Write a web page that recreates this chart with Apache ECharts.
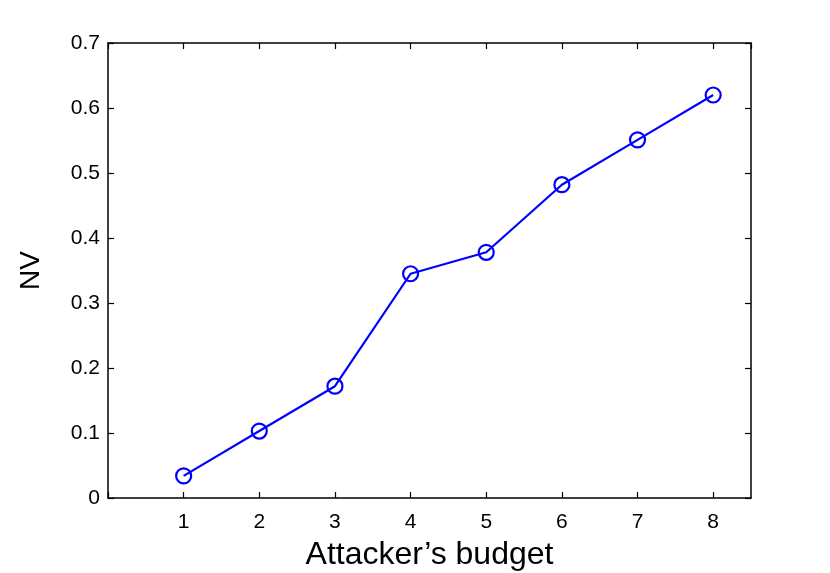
<!DOCTYPE html>
<html>
<head>
<meta charset="utf-8">
<script src="https://cdn.jsdelivr.net/npm/echarts@6/dist/echarts.min.js"></script>
<style>
  html, body { margin: 0; padding: 0; background: #fff; }
  #chart { width: 830px; height: 573px; }
</style>
</head>
<body>
<div id="chart"></div>
<script>
// budget levels on the x axis
const budgets = [1, 2, 3, 4, 5, 6, 7, 8];
// NV value per budget
const nvValues = [0.034, 0.103, 0.172, 0.345, 0.378, 0.482, 0.551, 0.620];

const font = 'Liberation Sans, Arial, Helvetica, sans-serif';
const axisLine = { show: true, onZero: false, lineStyle: { color: '#000', width: 1.5 } };
const tick = { show: true, inside: true, length: 6, lineStyle: { color: '#000', width: 1.2 } };

const option = {
  animation: false,
  backgroundColor: '#fff',
  grid: { left: 108, top: 43, width: 643, height: 455, containLabel: false, outerBoundsMode: 'none' },
  xAxis: [{
    type: 'value',
    min: 0,
    max: 8.5,
    interval: 1,
    name: 'Attacker\u2019s budget',
    nameLocation: 'middle',
    nameGap: 41,
    nameTextStyle: { fontFamily: font, fontSize: 32, color: '#000' },
    axisLine: axisLine,
    axisTick: tick,
    splitLine: { show: false },
    axisLabel: {
      fontFamily: font, fontSize: 21, color: '#000', margin: 14,
      showMaxLabel: false,
      formatter: v => (v >= 1 && v <= 8 && v % 1 === 0 ? String(v) : '')
    }
  }, {
    type: 'value',
    position: 'top',
    min: 0,
    max: 8.5,
    interval: 1,
    axisLine: axisLine,
    axisTick: tick,
    axisLabel: { show: false },
    splitLine: { show: false }
  }],
  yAxis: [{
    type: 'value',
    min: 0,
    max: 0.7,
    interval: 0.1,
    name: 'NV',
    nameLocation: 'middle',
    nameGap: 63,
    nameTextStyle: { fontFamily: font, fontSize: 28, color: '#000' },
    axisLine: axisLine,
    axisTick: tick,
    splitLine: { show: false },
    axisLabel: {
      fontFamily: font, fontSize: 21, color: '#000', margin: 8,
      formatter: v => (v === 0 ? '0' : v.toFixed(1))
    }
  }, {
    type: 'value',
    position: 'right',
    min: 0,
    max: 0.7,
    interval: 0.1,
    axisLine: axisLine,
    axisTick: tick,
    axisLabel: { show: false },
    splitLine: { show: false }
  }],
  series: [{
    type: 'line',
    data: budgets.map((b, i) => [b, nvValues[i]]),
    symbol: 'circle',
    symbolSize: 15,
    lineStyle: { color: '#0000ff', width: 2.2 },
    itemStyle: { color: 'rgba(0,0,0,0)', borderColor: '#0000ff', borderWidth: 2.2 }
  }]
};

const chart = echarts.init(document.getElementById('chart'));
chart.setOption(option);
</script>
</body>
</html>
